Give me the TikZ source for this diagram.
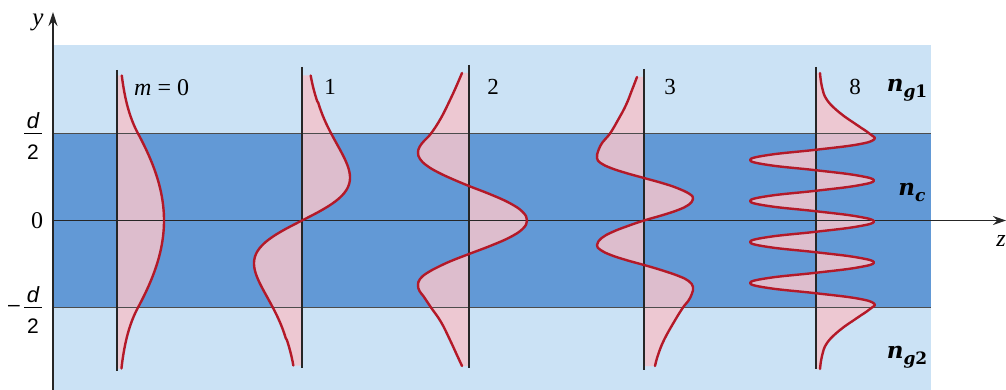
\documentclass[tikz,border=0pt]{standalone}
\usepackage{fontspec}
\setmainfont{Liberation Serif}
\newfontfamily\sansfam{Liberation Sans}
\newfontfamily\nfam{DejaVu Serif}
\usetikzlibrary{arrows.meta}
\definecolor{lightbg}{RGB}{203,226,245}
\definecolor{darkbg}{RGB}{98,153,214}
\definecolor{pinkfill}{RGB}{243,196,204}
\definecolor{wavered}{RGB}{180,25,40}
\newcommand\modefill[5]{\fill[wavefill] (#2,#3) -- plot[smooth,tension=#5] coordinates {#1} -- (#2,#4) -- cycle;}
\newcommand\modeline[2]{\draw[wave] plot[smooth,tension=#2] coordinates {#1};}
\def\cC{(462,73) (456,87) (450,100) (441,118) (431,133.5) (424,141) (419.5,147) (418,153) (420,159) (426,165) (435.5,171) (450,178) (469,186) (491,194.6) (510,203.25) (522.6,211.9) (527,220.5) (522.6,228.9) (510,237.25) (491,245.6) (469,254) (451,261) (438,267) (427,273) (420,279) (418,285) (419.5,291) (424,297) (431,307.5) (441,322) (450,340) (456,353) (462,366)}
\def\cD{(637,77) (632,90) (626,105) (618,120) (610,133.5) (602.8,142) (598.5,150) (597,158) (600.6,163) (610.8,168) (626,173) (644,178) (662,183) (677,188) (689.6,194) (693,199) (688.3,205) (678,210) (663,215) (644,220.5) (627.8,226) (612.4,232) (601.7,238) (597,245) (600.6,250) (610.8,255) (626,260) (644,265) (661,270) (678.6,276) (688.6,281) (693,287) (691.8,294) (688.2,301) (683,307.5) (674,322) (664,340) (658,355) (655,366)}
\def\cE{(820,73) (822,87) (827,100) (840,113) (857,125) (870,134) (874,139.5) (857,144.6) (816,149.75) (769,154.9) (750,160) (769,165.1) (816,170.25) (857,175.4) (874,180.5) (857,185.6) (816,190.75) (769,195.9) (750,201) (769,206.1) (816,211.25) (857,216.4) (874,221.5) (857,226.6) (816,231.75) (769,236.9) (750,242) (769,247.1) (816,252.25) (857,257.4) (874,262.5) (857,267.6) (816,272.75) (769,277.9) (750,283) (769,288.1) (816,293.25) (857,298.4) (874,303.5) (870,309) (857,318) (840,330) (827,343) (822,356) (820,369)}
\begin{document}
\begin{tikzpicture}[x=1pt,y=-1pt,
  ax/.style={line width=1.2pt, draw=black!85},
  hline/.style={line width=1pt, draw=black!70},
  vline/.style={line width=1.1pt, draw=black!85},
  wave/.style={line width=2.4pt, draw=wavered, line join=round, line cap=round},
  wavefill/.style={fill=pinkfill, fill opacity=0.85},
  lbl/.style={font=\fontsize{23}{26}\selectfont, inner sep=0pt},
  fr/.style={font=\sansfam\fontsize{21}{24}\selectfont, inner sep=0pt},
  nlbl/.style={font=\nfam\bfseries\itshape\fontsize{23}{28}\selectfont, inner sep=0pt}]
\useasboundingbox (0,0) rectangle (1006,390);
% backgrounds
\fill[lightbg] (53,45) rectangle (931,390);
\fill[darkbg] (53,133.5) rectangle (931,307.5);
% fills
\fill[wavefill] (117,75.5) -- plot[domain=145:-148, samples=160, variable=\t]
  ({117+((abs(\t)<=87) ? 47*cos(deg(0.01273*\t)) : 21*exp(-(abs(\t)-87)/39.3))}, {220.5-\t}) -- (117,368.5) -- cycle;
\fill[wavefill] (302,75.5) -- plot[domain=145:-145, samples=160, variable=\t]
  ({302+1.98*\t*(1/cosh(\t/42.6))^1.3}, {220.5-\t}) -- (302,365.5) -- cycle;
\expandafter\modefill\expandafter{\cC}{469}{73}{366}{0.7}
\expandafter\modefill\expandafter{\cD}{644}{77}{366}{0.7}
\expandafter\modefill\expandafter{\cE}{816}{73}{369}{0.7}
% horizontal lines
\coordinate (itl) at (53,133.5);
\coordinate (itr) at (931,133.5);
\coordinate (ibl) at (53,307.5);
\coordinate (ibr) at (931,307.5);
\draw[hline] (itl) -- (itr);
\draw[hline] (ibl) -- (ibr);
% axes
\coordinate (yb) at (53,390);
\coordinate (yt) at (53,12);
\coordinate (zl) at (53,220.5);
\coordinate (zr) at (1006,220.5);
\draw[ax,-{Stealth[length=14pt,width=9pt]}] (yb) -- (yt);
\draw[ax,-{Stealth[length=13pt,width=9pt]}] (zl) -- (zr);
% mode lines
\draw[vline] (117,70) -- (117,371);
\draw[vline] (302,67) -- (302,368);
\draw[vline] (469,65) -- (469,368);
\draw[vline] (644,69) -- (644,370);
\draw[vline] (816,67) -- (816,369);
% curves
\draw[wave] plot[domain=145:-148, samples=160, variable=\t]
  ({117+((abs(\t)<=87) ? 47*cos(deg(0.01273*\t)) : 21*exp(-(abs(\t)-87)/39.3))}, {220.5-\t});
\draw[wave] plot[domain=145:-145, samples=160, variable=\t]
  ({302+1.98*\t*(1/cosh(\t/42.6))^1.3}, {220.5-\t});
\expandafter\modeline\expandafter{\cC}{0.7}
\expandafter\modeline\expandafter{\cD}{0.7}
\expandafter\modeline\expandafter{\cE}{0.7}
% labels
\node[lbl, font=\itshape\fontsize{25}{28}\selectfont] (ylab) at (38,22) {y};
\node[lbl, font=\itshape\fontsize{24}{28}\selectfont] (zlab) at (1001,241) {z};
\node[fr, font=\sansfam\itshape\fontsize{22}{24}\selectfont] (d1) at (33,121) {d};
\node[fr] (t1) at (33,152) {2};
\draw[line width=1.6pt] (24,133.5) -- (42,133.5);
\node[fr] (mn) at (14,308) {\textendash};
\node[fr, font=\sansfam\itshape\fontsize{22}{24}\selectfont] (d2) at (33,295) {d};
\node[fr] (t2) at (33,326) {2};
\draw[line width=1.6pt] (24,307.5) -- (42,307.5);
\node[lbl, font=\fontsize{24}{28}\selectfont] (zero) at (37,221) {0};
\node[lbl, font=\fontsize{24}{28}\selectfont, anchor=west] (m0) at (134,88) {\textit{m}\hspace{6pt}=\hspace{6pt}0};
\node[lbl] (m1) at (330,87) {1};
\node[lbl] (m2) at (493,87) {2};
\node[lbl] (m3) at (670,87) {3};
\node[lbl] (m8) at (855,87) {8};
\node[nlbl] (ng1) at (907,90) {n\raisebox{-6pt}{\fontsize{17}{20}\selectfont g\upshape 1}};
\node[nlbl] (nc) at (912,192) {n\raisebox{-6pt}{\fontsize{17}{20}\selectfont c}};
\node[nlbl] (ng2) at (907,357) {n\raisebox{-6pt}{\fontsize{17}{20}\selectfont g\upshape 2}};
\end{tikzpicture}
\end{document}
